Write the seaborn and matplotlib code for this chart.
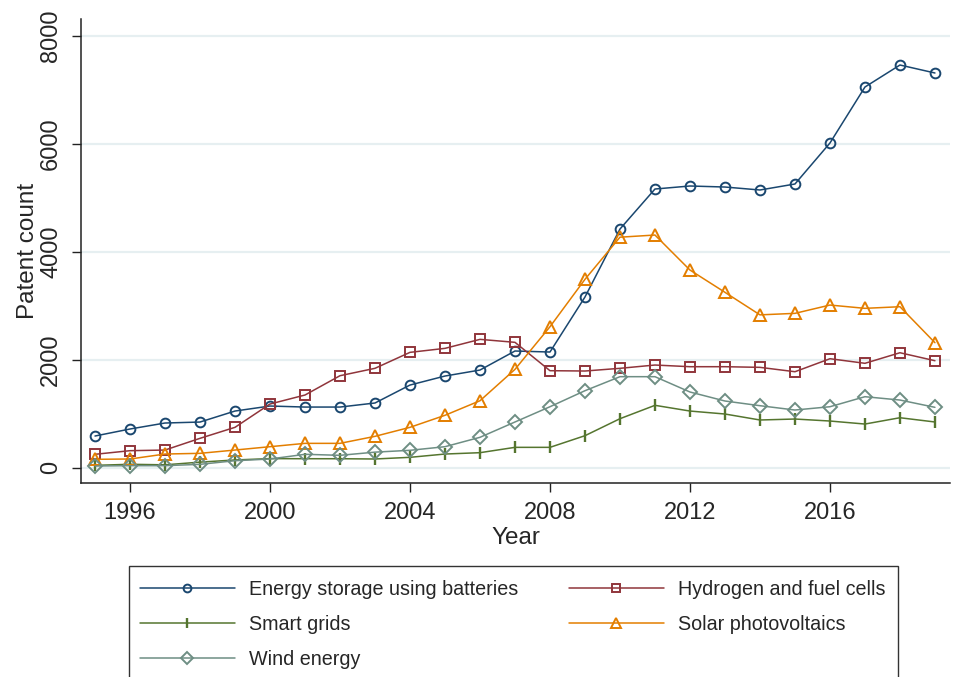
import matplotlib
matplotlib.use("Agg")
import matplotlib.pyplot as plt
from matplotlib.patches import Rectangle
import seaborn as sns
import pandas as pd

years = list(range(1995, 2020))
batteries = [584, 714, 825, 843, 1047, 1140, 1121, 1121, 1196, 1529, 1696, 1807, 2160,
             2141, 3161, 4421, 5163, 5219, 5200, 5145, 5256, 6016, 7054, 7462, 7314]
hydrogen = [245, 312, 324, 541, 745, 1177, 1344, 1702, 1839, 2135, 2209, 2376, 2321,
            1795, 1789, 1839, 1900, 1869, 1869, 1857, 1776, 2017, 1932, 2128, 1980]
smart_grids = [40, 60, 50, 100, 140, 165, 163, 163, 158, 189, 250, 275, 374,
               374, 590, 905, 1153, 1047, 992, 881, 899, 862, 806, 923, 844]
solar = [152, 158, 250, 263, 324, 386, 448, 448, 578, 745, 968, 1238, 1820,
         2610, 3489, 4270, 4310, 3661, 3248, 2830, 2858, 3012, 2951, 2981, 2314]
wind = [28, 34, 34, 59, 126, 158, 245, 226, 285, 319, 386, 560, 844,
        1127, 1424, 1684, 1684, 1400, 1233, 1146, 1066, 1127, 1313, 1251, 1116]

labels = ["Energy storage using batteries", "Hydrogen and fuel cells", "Smart grids",
          "Solar photovoltaics", "Wind energy"]
x_ticks = [1996, 2000, 2004, 2008, 2012, 2016]
y_ticks = [0, 2000, 4000, 6000, 8000]

df = pd.DataFrame({"Year": years, labels[0]: batteries, labels[1]: hydrogen,
                   labels[2]: smart_grids, labels[3]: solar, labels[4]: wind})

sns.set_style("white")
plt.rcParams["font.family"] = ["Liberation Sans", "DejaVu Sans"]

colors = ["#1a476f", "#90353b", "#55752f", "#e37e00", "#6e8e84"]
markers = ["o", "s", "|", "^", "D"]
msizes = [7.0, 6.6, 9, 8.3, 7.6]

fig = plt.figure(figsize=(9.54, 6.77), dpi=100)
ax = fig.add_axes([81/954, 1-483/677, (950-81)/954, (483-19)/677])

for lab, c, m, ms in zip(labels, colors, markers, msizes):
    kw = dict(markerfacecolor="none", markeredgecolor=c, markeredgewidth=1.4)
    if m == "|":
        kw = dict(markeredgecolor=c, markeredgewidth=1.7)
    sns.lineplot(data=df, x="Year", y=lab, ax=ax, color=c, marker=m, markersize=ms,
                 linewidth=1.1, label=lab, **kw)

ax.set_xlim(1994.6, 2019.43)
ax.set_ylim(-287, 8315)
ax.set_xticks(x_ticks)
ax.set_yticks(y_ticks)
ax.grid(axis="y", color="#e6eff1", linewidth=1.6)
ax.grid(axis="x", visible=False)
ax.set_axisbelow(True)
for s in ["top", "right"]:
    ax.spines[s].set_visible(False)
for s in ["left", "bottom"]:
    ax.spines[s].set_color("#222222")
    ax.spines[s].set_linewidth(1.1)
ax.tick_params(axis="both", direction="out", length=6.5, width=1.0, color="#222222",
               labelsize=17, pad=7, left=True, bottom=True)
ax.tick_params(axis="y", labelrotation=90)
for t in ax.get_yticklabels():
    t.set_va("center")
ax.set_xlabel("Year", fontsize=17.5, labelpad=2)
ax.set_ylabel("Patent count", fontsize=17.5, labelpad=1)

if ax.legend_:
    ax.legend_.remove()
handles, labs = ax.get_legend_handles_labels()
order = [0, 2, 4, 1, 3]
leg = fig.legend([handles[i] for i in order], [labs[i] for i in order], ncol=2,
                 loc="upper left", bbox_to_anchor=(140/954, 1-580/677),
                 borderaxespad=0, borderpad=0, frameon=False, fontsize=14.2,
                 handlelength=4.8, handletextpad=0.75, labelspacing=0.8,
                 markerscale=0.8, columnspacing=2.55)
fig.add_artist(Rectangle((129/954, -0.05), (898-129)/954, 0.05 + (677-566)/677,
                         transform=fig.transFigure, facecolor="none",
                         edgecolor="#333333", linewidth=1.0))

fig.savefig("out.png", dpi=100, facecolor="white")
